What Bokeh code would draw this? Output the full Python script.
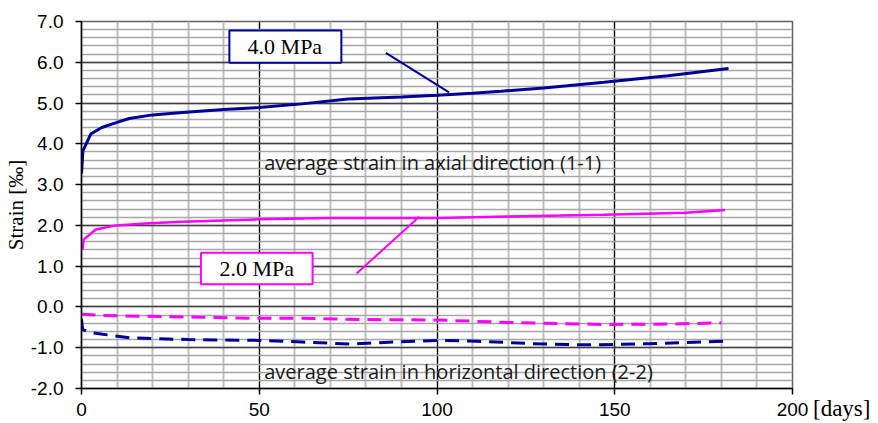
import math
from bokeh.plotting import figure
from bokeh.models import Range1d, SingleIntervalTicker, Label, PrintfTickFormatter, Legend, LegendItem
from bokeh.embed import file_html
from bokeh.resources import INLINE

# ---- data ----
days_axial_4 = [0, 0.4, 2.6, 5.7, 8.7, 13.4, 20, 28.4, 40, 50, 62, 75, 90, 100, 110, 118, 130, 147, 165, 182]
strain_axial_4 = [3.27, 3.83, 4.24, 4.40, 4.49, 4.62, 4.71, 4.77, 4.84, 4.89, 4.98, 5.10, 5.15, 5.19, 5.24, 5.29, 5.37, 5.51, 5.67, 5.85]

days_axial_2 = [0.3, 0.6, 4, 9.7, 19, 28.4, 50, 70, 90, 100, 120, 147, 170, 181]
strain_axial_2 = [1.40, 1.65, 1.90, 2.00, 2.05, 2.09, 2.15, 2.18, 2.18, 2.18, 2.22, 2.26, 2.31, 2.38]

days_horiz_2 = [0, 6, 25, 50, 62, 80, 100, 120, 147, 165, 180]
strain_horiz_2 = [-0.18, -0.21, -0.24, -0.28, -0.28, -0.31, -0.32, -0.38, -0.43, -0.42, -0.39]

days_horiz_4 = [0, 0.3, 2, 6, 14, 30, 50, 62, 76, 88, 100, 111, 127, 141, 150, 160, 170, 182]
strain_horiz_4 = [-0.30, -0.55, -0.62, -0.67, -0.76, -0.80, -0.82, -0.86, -0.91, -0.86, -0.82, -0.84, -0.90, -0.93, -0.92, -0.90, -0.87, -0.84]

x_ticks_interval = 50
y_ticks_interval = 1

BLUE = "#000099"
MAGENTA = "#FF00FF"
TXT = "#1a1a1a"

p = figure(frame_width=711, frame_height=367,
           x_range=Range1d(0, 200), y_range=Range1d(-2, 7),
           output_backend="svg", toolbar_location=None,
           min_border_left=79, min_border_right=88, min_border_top=21, min_border_bottom=35,
           background_fill_color="white", border_fill_color="white")

p.xaxis.ticker = SingleIntervalTicker(interval=x_ticks_interval, num_minor_ticks=5)
p.yaxis.ticker = SingleIntervalTicker(interval=y_ticks_interval, num_minor_ticks=5)
p.yaxis.formatter = PrintfTickFormatter(format="%.1f")

for ax in (p.xaxis[0], p.yaxis[0]):
    ax.minor_tick_line_color = None
    ax.major_tick_in = 0
    ax.major_tick_out = 6
    ax.major_tick_line_color = "black"
    ax.major_tick_line_width = 1.5
    ax.axis_line_color = "black"
    ax.axis_line_width = 1.5
    ax.major_label_text_font = "Liberation Sans"
    ax.major_label_text_font_size = "19px"
    ax.major_label_text_color = "black"
p.yaxis.major_label_standoff = 12
p.xaxis.major_label_standoff = 8

p.yaxis.axis_label = "Strain [‰]"
p.yaxis.axis_label_text_font = "Liberation Serif"
p.yaxis.axis_label_text_font_size = "21px"
p.yaxis.axis_label_text_font_style = "normal"
p.yaxis.axis_label_text_color = "black"
p.yaxis.axis_label_standoff = 0

p.xgrid.grid_line_color = "black"
p.xgrid.grid_line_width = 1.2
p.xgrid.minor_grid_line_color = "#BFBFBF"
p.xgrid.minor_grid_line_width = 2
p.ygrid.grid_line_color = "#404040"
p.ygrid.grid_line_width = 1.5
p.ygrid.minor_grid_line_color = "#A6A6A6"
p.ygrid.minor_grid_line_width = 1.3
p.outline_line_color = "#606060"
p.outline_line_width = 1.5

# curves
p.line(days_axial_4, strain_axial_4, line_color=BLUE, line_width=3)
p.line(days_axial_2, strain_axial_2, line_color=MAGENTA, line_width=2.5)
p.line(days_horiz_2, strain_horiz_2, line_color=MAGENTA, line_width=3, line_dash="14 8")
p.line(days_horiz_4, strain_horiz_4, line_color=BLUE, line_width=3, line_dash="14 8")

# leader lines
p.line([85.6, 103.4], [6.23, 5.26], line_color=BLUE, line_width=2)
p.line([77.4, 95.0], [0.82, 2.21], line_color=MAGENTA, line_width=2)

# label boxes
p.quad(left=[41.6], right=[73.1], top=[6.78], bottom=[5.99], fill_color="white",
       line_color=BLUE, line_width=2)
p.quad(left=[33.6], right=[65.0], top=[1.33], bottom=[0.555], fill_color="white",
       line_color=MAGENTA, line_width=2)

p.add_layout(Label(x=57.2, y=6.386, text="4.0 MPa", text_align="center", text_baseline="middle",
                   text_font="Liberation Serif", text_font_size="22px", text_color="black"))
p.add_layout(Label(x=49.3, y=0.944, text="2.0 MPa", text_align="center", text_baseline="middle",
                   text_font="Liberation Serif", text_font_size="22px", text_color="black"))

p.add_layout(Label(x=51.4, y=3.54, text="average strain in axial direction (1-1)",
                   text_align="left", text_baseline="middle",
                   text_font="Open Sans", text_font_size="20px", text_color=TXT))
p.add_layout(Label(x=51.4, y=-1.575, text="average strain in horizontal direction (2-2)",
                   text_align="left", text_baseline="middle",
                   text_font="Open Sans", text_font_size="20px", text_color=TXT))

# x-axis unit "[days]" beside the last tick label (legend text in the right panel)
dummy = p.line(x=[], y=[], line_alpha=0)
leg = Legend(items=[LegendItem(label="[days]", renderers=[dummy])], location=(21, -34),
             glyph_width=0, label_standoff=0, padding=0, margin=0, spacing=0,
             border_line_color=None, background_fill_alpha=0,
             label_text_font="Liberation Serif", label_text_font_size="23px", label_text_color="black")
p.add_layout(leg, "right")

open("out.html", "w").write(file_html(p, INLINE))
